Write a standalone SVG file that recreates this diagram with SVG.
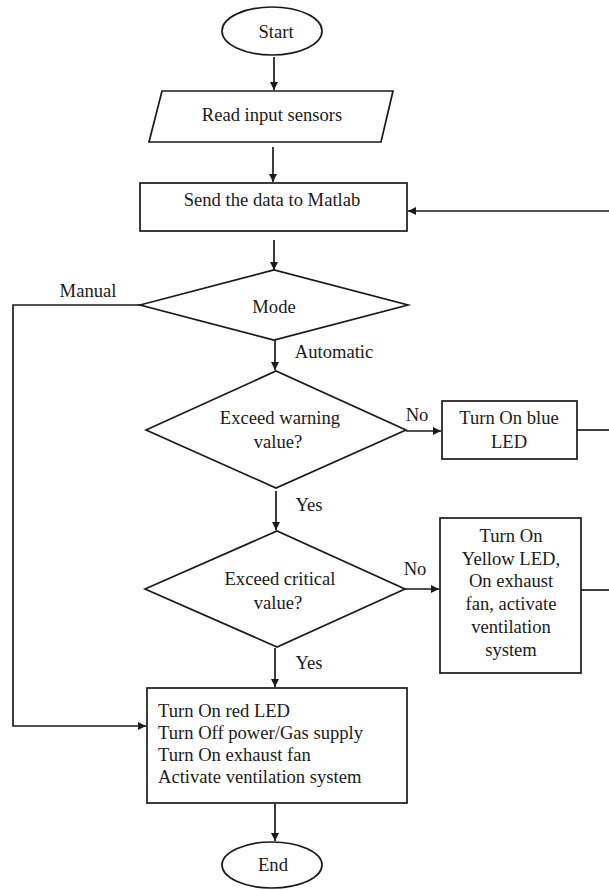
<svg xmlns="http://www.w3.org/2000/svg" width="609" height="890" viewBox="0 0 609 890">
<style>
.s{fill:#fff;stroke:#1a1a1a;stroke-width:1.7}
.c{fill:none;stroke:#1a1a1a;stroke-width:1.7}
text{font-family:"Liberation Serif","Times New Roman",serif;font-size:18.6px;fill:#1a1a1a}
.m{text-anchor:middle}
</style>
<defs>
<marker id="a" viewBox="0 0 10 10" refX="10" refY="5" markerWidth="9" markerHeight="8" markerUnits="userSpaceOnUse" orient="auto">
<path d="M0,0 L10,5 L0,10 z" fill="#1a1a1a"/>
</marker>
</defs>
<rect width="609" height="890" fill="#fff"/>
<g id="connectors">
<path class="c" d="M274,57 V90" marker-end="url(#a)"/>
<path class="c" d="M273,147 V182" marker-end="url(#a)"/>
<path class="c" d="M609,211 H408" marker-end="url(#a)"/>
<path class="c" d="M274,240 V270" marker-end="url(#a)"/>
<path class="c" d="M140,305 H13 V726 H146" marker-end="url(#a)"/>
<path class="c" d="M275,340 V370" marker-end="url(#a)"/>
<path class="c" d="M406,431 H441" marker-end="url(#a)"/>
<path class="c" d="M577,430 H609"/>
<path class="c" d="M276,491 V530" marker-end="url(#a)"/>
<path class="c" d="M405,589 H439" marker-end="url(#a)"/>
<path class="c" d="M581,590 H609"/>
<path class="c" d="M275,648 V687" marker-end="url(#a)"/>
<path class="c" d="M275,804 V841" marker-end="url(#a)"/>
<text x="88" y="297" class="m">Manual</text>
<text x="334" y="358" class="m">Automatic</text>
<text x="417" y="421" class="m">No</text>
<text x="309" y="511" class="m">Yes</text>
<text x="415" y="575" class="m">No</text>
<text x="309" y="669" class="m">Yes</text>
</g>
<g id="start">
<ellipse class="s" cx="272" cy="31" rx="50" ry="24"/>
<text x="276" y="38" class="m">Start</text>
</g>
<g id="read">
<polygon class="s" points="162,91 393,91 381,142 149,142"/>
<text x="272" y="121" class="m">Read input sensors</text>
</g>
<g id="send">
<rect class="s" x="140" y="183" width="267" height="48"/>
<text x="272" y="206" class="m">Send the data to Matlab</text>
</g>
<g id="mode">
<polygon class="s" points="140,305 274,270 408,305 274,340"/>
<text x="274" y="313" class="m">Mode</text>
</g>
<g id="warning">
<polygon class="s" points="146,430 276,371 406,430 276,488"/>
<text x="280" y="424" class="m">Exceed warning</text>
<text x="278" y="448" class="m">value?</text>
</g>
<g id="blue">
<rect class="s" x="442" y="401" width="135" height="58"/>
<text x="509" y="424" class="m">Turn On blue</text>
<text x="509" y="448" class="m">LED</text>
</g>
<g id="critical">
<polygon class="s" points="145,589 277,531 405,589 277,647"/>
<text x="280" y="585" class="m">Exceed critical</text>
<text x="278" y="609" class="m">value?</text>
</g>
<g id="yellow">
<rect class="s" x="440" y="518" width="141" height="155"/>
<text x="511" y="542" class="m">Turn On</text>
<text x="511" y="565" class="m">Yellow LED,</text>
<text x="511" y="587" class="m">On exhaust</text>
<text x="511" y="610" class="m">fan, activate</text>
<text x="511" y="633" class="m">ventilation</text>
<text x="511" y="656" class="m">system</text>
</g>
<g id="red">
<rect class="s" x="147" y="688" width="260" height="115"/>
<text x="158" y="717">Turn On red LED</text>
<text x="158" y="739">Turn Off power/Gas supply</text>
<text x="158" y="761">Turn On exhaust fan</text>
<text x="158" y="783">Activate ventilation system</text>
</g>
<g id="end">
<ellipse class="s" cx="272" cy="865" rx="50" ry="23"/>
<text x="273" y="871" class="m">End</text>
</g>
</svg>
